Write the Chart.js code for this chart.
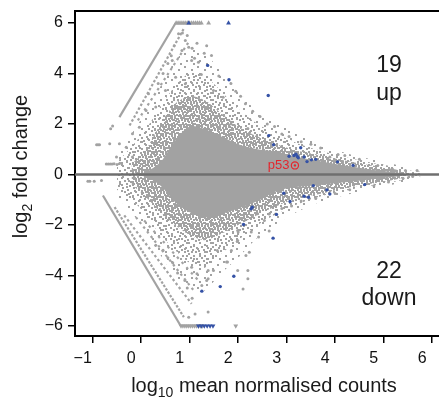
<!DOCTYPE html>
<html>
<head>
<meta charset="utf-8">
<script src="https://cdn.jsdelivr.net/npm/chart.js@4.4.1/dist/chart.umd.min.js"></script>
<style>
  html, body { margin: 0; padding: 0; overflow: hidden; background: #fff; }
  #wrap { width: 447px; height: 407px; }
</style>
</head>
<body>
<div id="wrap"><canvas id="maPlot" width="447" height="407"></canvas></div>
<script>
// axes
const xTicks = [-1, 0, 1, 2, 3, 4, 5, 6];
const yTicks = [-6, -4, -2, 0, 2, 4, 6];
const xRange = [-1.366, 6.2];
const yRange = [-6.396, 6.475];

// density envelopes of the grey cloud
const bandX      = [-0.2, 0.1, 0.4, 0.7, 1.0, 1.3, 1.6, 2.0, 2.4, 2.8, 3.2, 3.6, 4.0, 4.4, 4.8, 5.2, 5.5];
const coreUpper  = [0.0, 0.1, 0.5, 1.35, 1.9, 1.8, 1.55, 1.2, 1.0, 0.9, 0.7, 0.55, 0.42, 0.3, 0.18, 0.1, 0.0];
const coreLower  = [0.0, -0.1, -0.45, -1.1, -1.5, -1.7, -1.6, -1.35, -1.05, -0.65, -0.5, -0.44, -0.35, -0.27, -0.18, -0.1, 0.0];
const denseUpper = [0.4, 1.0, 2.0, 2.8, 3.1, 2.95, 2.5, 1.9, 1.5, 1.2, 0.95, 0.8, 0.63, 0.48, 0.35, 0.22, 0.08];
const denseLower = [-0.4, -0.9, -1.5, -2.0, -2.4, -2.6, -2.4, -2.0, -1.6, -1.25, -0.95, -0.8, -0.63, -0.48, -0.35, -0.22, -0.08];
const sparseX     = [-0.5, -0.2, 0.1, 0.4, 0.7, 1.0, 1.3, 1.6, 2.0, 2.4, 2.8, 3.2, 3.6, 4.0, 4.4, 4.8, 5.2, 5.5, 5.8];
const sparseUpper = [0.5, 1.1, 1.8, 2.7, 3.5, 4.0, 3.9, 3.4, 2.6, 2.0, 1.6, 1.25, 1.0, 0.78, 0.6, 0.45, 0.32, 0.18, 0.05];
const sparseLower = [-0.6, -1.0, -1.6, -2.4, -3.0, -3.5, -3.7, -3.2, -2.6, -2.0, -1.55, -1.2, -0.92, -0.72, -0.56, -0.43, -0.3, -0.18, -0.05];
const outerUpper  = [0.8, 1.6, 2.5, 3.5, 4.5, 5.0, 4.8, 4.2, 3.3, 2.5, 2.05, 1.6, 1.25, 0.98, 0.75, 0.58, 0.42, 0.26, 0.08];
const outerLower  = [-0.9, -1.5, -2.3, -3.2, -4.0, -4.5, -4.6, -4.0, -3.3, -2.5, -1.95, -1.5, -1.15, -0.92, -0.72, -0.55, -0.4, -0.25, -0.08];

// zero-count rows (start / end of each row of genes)
const upperMain = [[-0.45, 2.27], [0.71, 6.0]];
const upperRows = [
  [[-0.24, 1.94], [0.88, 5.78]],
  [[-0.07, 2.14], [0.98, 5.25]]
];
const lowerMain = [[-0.79, -0.83], [0.81, -5.98]];
const lowerRows = [
  [[-0.55, -1.29], [0.88, -5.65]],
  [[-0.35, -1.62], [1.04, -5.12]],
  [[-0.11, -1.69], [1.11, -4.66]],
  [[0.06, -1.82], [1.18, -4.2]]
];

// single grey genes outside the cloud
const upperOutliers = [
  [-0.65, 1.22], [-0.45, 1.22], [-0.31, 1.08], [-0.51, 0.69], [-0.18, 0.69], [-0.18, 1.61], [-0.04, 1.87],
  [0.1, 2.53], [0.3, 2.67], [0.5, 3.33], [0.71, 3.85], [0.91, 3.59], [0.64, 4.51], [1.04, 4.51], [0.84, 4.91],
  [0.98, 5.04], [0.91, 5.31], [0.77, 5.57], [1.18, 4.45], [1.24, 3.96], [1.45, 4.71], [1.49, 3.33], [1.69, 3.06],
  [1.85, 2.0], [2.2, 1.82], [0.15, 3.2], [0.35, 3.6], [0.45, 4.0], [0.55, 4.4], [0.62, 4.7], [0.68, 5.1],
  [0.85, 5.6], [0.95, 5.5], [1.05, 5.0], [1.1, 4.6], [1.15, 5.2], [1.3, 4.8], [1.35, 5.1], [1.6, 3.9],
  [1.85, 3.6], [1.95, 3.3], [2.05, 3.1], [2.15, 2.8], [2.3, 2.5], [2.45, 2.3], [2.6, 2.0], [2.75, 1.9],
  [2.9, 1.6], [3.05, 1.5], [3.3, 1.3], [3.5, 1.2], [3.7, 1.05], [3.89, 0.69], [4.06, 0.79], [4.2, 0.75],
  [4.5, 0.6], [4.88, 0.36], [5.18, 0.22], [5.45, 0.16], [5.69, 0.16]
];
const lowerOutliers = [
  [-0.82, -0.24], [2.64, -1.56], [2.77, -1.56], [2.64, -2.24], [2.42, -2.48], [2.27, -2.28], [2.23, -3.08],
  [2.16, -3.21], [2.2, -3.8], [2.2, -4.13], [2.1, -4.53], [1.99, -2.61], [1.86, -3.01], [1.76, -3.47],
  [1.49, -3.8], [1.35, -4.2], [1.38, -5.45], [1.25, -4.4], [2.4, -1.55], [1.99, -2.22], [2.54, -1.82],
  [2.0, -2.28], [1.98, -2.65], [1.78, -3.47], [1.99, -3.8], [1.57, -3.01], [1.38, -3.8], [1.04, -3.67],
  [1.38, -4.13], [1.15, -3.93], [1.11, -5.52], [0.98, -5.65], [1.05, -4.9], [0.95, -4.5], [0.9, -4.2],
  [0.75, -3.9], [0.65, -3.5], [0.55, -3.3], [0.45, -3.0], [0.3, -2.8], [2.9, -1.35], [3.1, -1.25],
  [3.3, -1.05], [3.6, -0.95], [4.0, -0.75], [4.3, -0.6], [4.8, -0.45], [5.1, -0.3], [5.4, -0.15], [5.6, -0.08]
];
const leftRows = [
  [-0.92, 1.18], [-0.89, 1.18], [-0.86, 1.18], [-0.72, 0.42], [-0.68, 0.42], [-0.64, 0.42], [-0.6, 0.42],
  [-0.56, 0.43], [-0.5, 0.4], [-0.44, 0.45], [-1.1, -0.27], [-1.06, -0.27], [-0.97, -0.27],
  [-0.63, 1.81], [-0.59, 1.92]
];

// genes clipped at +-6 (drawn as triangles)
const greyTopX    = [0.72, 0.76, 0.8, 0.84, 0.88, 0.92, 0.96, 1.0, 1.04, 1.08, 1.12, 1.16, 1.2, 1.24, 1.39];
const greyBottomX = [0.82, 0.86, 0.9, 0.94, 0.98, 1.02, 1.06, 1.1, 1.14, 1.18, 1.22, 1.26, 1.95];
const blueTopX    = [0.98, 1.8];
const blueBottomX = [1.18, 1.24, 1.3, 1.36, 1.42, 1.48];

// significant genes
const upGenes = [
  [1.37, 4.32], [1.81, 3.75], [2.62, 3.13], [2.63, 1.54], [2.73, 1.18], [3.29, 1.06], [3.15, 0.75],
  [3.22, 0.71], [3.24, 0.66], [3.36, 0.69], [3.51, 0.58], [3.42, 0.51], [4.37, 0.36], [3.19, 0.8],
  [3.05, 0.72], [3.6, 0.6], [4.05, 0.5]
];
const downGenes = [
  [4.61, -0.4], [3.36, -0.86], [2.94, -0.74], [3.55, -0.44], [3.83, -0.61], [3.89, -0.77], [3.45, -0.9],
  [3.07, -1.07], [2.27, -1.36], [2.29, -1.3], [2.79, -1.58], [2.72, -2.52], [2.11, -1.98], [1.91, -4.03],
  [1.63, -4.44], [1.25, -4.62]
];
const p53 = [3.17, 0.36];

const upCount = 19;
const downCount = 22;
const countX = 5.11;
const countY = [4.04, 2.97, -4.11, -5.15];

const GREY = '#a2a2a2';
const BLUE = '#3552a6';
const RED = '#e3262d';

function pts(arr) { return arr.map(([x, y]) => ({x: x, y: y})); }
function band(xs, ys) { return xs.map((x, i) => ({x: x, y: ys[i]})); }

// speckled fill textures standing in for the overplotted points
function speckle(size, cells) {
  const c = document.createElement('canvas');
  c.width = c.height = size;
  const g = c.getContext('2d');
  g.fillStyle = GREY;
  cells.forEach(([a, b]) => g.fillRect(a, b, 2, 2));
  return g.createPattern(c, 'repeat');
}
const densePattern = speckle(9, [[0, 0], [3, 0], [6, 1], [1, 2], [4, 3], [7, 3], [2, 5], [5, 6], [0, 7], [7, 7], [3, 7]]);
const sparsePattern = speckle(11, [[1, 0], [6, 2], [9, 5], [3, 4], [0, 8], [5, 7], [8, 9]]);
const outerPattern = speckle(13, [[2, 1], [9, 4], [4, 8], [11, 11]]);

function bandPair(xs, up, low, fillStyle, order) {
  return [
    {data: band(xs, up), fill: '+1', backgroundColor: fillStyle, borderColor: 'transparent',
     borderWidth: 0, pointRadius: 0, tension: 0.3, order: order},
    {data: band(xs, low), fill: false, borderColor: 'transparent', borderWidth: 0,
     pointRadius: 0, tension: 0.3, order: order}
  ];
}
function row(arr, dash, width) {
  return {data: pts(arr), borderColor: GREY, borderWidth: width || 2.2, borderDash: dash || [],
          pointRadius: 0, fill: false, order: 15};
}
function dots(arr, color, order, extra) {
  return Object.assign({data: pts(arr), showLine: false, pointRadius: 1.5, pointBackgroundColor: color,
                        pointBorderWidth: 0, order: order}, extra || {});
}
function atY(xs, y) { return xs.map(x => [x, y]); }

const datasets = [].concat(
  bandPair(sparseX, outerUpper, outerLower, outerPattern, 21),
  bandPair(sparseX, sparseUpper, sparseLower, sparsePattern, 20),
  bandPair(bandX, denseUpper, denseLower, densePattern, 19),
  bandPair(bandX, coreUpper, coreLower, GREY, 18),
  [row(upperMain), row(upperRows[0], [2.5, 2]), row(upperRows[1], [2.5, 3.5])],
  [row(lowerMain), row(lowerRows[0], [2.5, 1.5]), row(lowerRows[1], [2.5, 2.5]),
   row(lowerRows[2], [2.5, 3.5]), row(lowerRows[3], [2.5, 4.5])],
  [dots(upperOutliers, GREY, 12), dots(lowerOutliers, GREY, 12), dots(leftRows, GREY, 12)],
  [dots(atY(greyTopX, 6), GREY, 11, {pointStyle: 'triangle', pointRadius: 2.8}),
   dots(atY(greyBottomX, -6), GREY, 11, {pointStyle: 'triangle', pointRadius: 2.8, rotation: 180})],
  [{data: [{x: xRange[0], y: 0}, {x: xRange[1], y: 0}], borderColor: '#6f6f6f', borderWidth: 2.5,
    pointRadius: 0, fill: false, order: 6}],
  [dots(upGenes, BLUE, 3, {pointRadius: 1.7}), dots(downGenes, BLUE, 3, {pointRadius: 1.7}),
   dots(atY(blueTopX, 6), BLUE, 3, {pointStyle: 'triangle', pointRadius: 2.8}),
   dots(atY(blueBottomX, -6), BLUE, 3, {pointStyle: 'triangle', pointRadius: 2.8, rotation: 180})],
  [dots([p53], RED, 1, {pointRadius: 3.6, pointBackgroundColor: 'rgba(0,0,0,0)', pointBorderColor: RED, pointBorderWidth: 1.2}),
   dots([p53], RED, 1, {pointRadius: 1.2})]
);

function minus(v) { return String(v).replace('-', '\u2212'); }

function drawParts(ctx, parts, cx, baseY) {
  let total = 0;
  parts.forEach(p => { ctx.font = p[1] + 'px "Liberation Sans"'; total += ctx.measureText(p[0]).width; });
  let x = cx - total / 2;
  ctx.textAlign = 'left';
  ctx.textBaseline = 'alphabetic';
  parts.forEach(p => {
    ctx.font = p[1] + 'px "Liberation Sans"';
    ctx.fillText(p[0], x, baseY + p[2]);
    x += ctx.measureText(p[0]).width;
  });
}

const decor = {
  id: 'decor',
  afterDraw(chart) {
    const ctx = chart.ctx, a = chart.chartArea, xs = chart.scales.x, ys = chart.scales.y;
    ctx.save();
    ctx.strokeStyle = '#000';
    ctx.lineWidth = 2;
    ctx.beginPath();
    ctx.moveTo(a.left - 1, a.top);
    ctx.lineTo(a.right, a.top);
    ctx.stroke();

    ctx.fillStyle = '#1a1a1a';
    ctx.font = '23px "Liberation Sans"';
    ctx.textAlign = 'center';
    ctx.textBaseline = 'alphabetic';
    const words = [String(upCount), 'up', String(downCount), 'down'];
    words.forEach((w, i) => ctx.fillText(w, xs.getPixelForValue(countX), ys.getPixelForValue(countY[i])));

    ctx.fillStyle = RED;
    ctx.font = '13px "Liberation Sans"';
    ctx.textAlign = 'right';
    ctx.textBaseline = 'middle';
    ctx.fillText('p53', xs.getPixelForValue(p53[0]) - 5.5, ys.getPixelForValue(p53[1]));

    ctx.fillStyle = '#1a1a1a';
    drawParts(ctx, [['log', 20, 0], ['10', 14, 5], [' mean normalised counts', 20, 0]], 264, 392);
    ctx.translate(27, 166.5);
    ctx.rotate(-Math.PI / 2);
    drawParts(ctx, [['log', 20, 0], ['2', 14, 5], [' fold change', 20, 0]], 0, 0);
    ctx.restore();
  }
};

Chart.defaults.font.family = '"Liberation Sans", Arial, sans-serif';

new Chart(document.getElementById('maPlot'), {
  type: 'line',
  data: {datasets: datasets},
  options: {
    responsive: false,
    animation: false,
    devicePixelRatio: 1,
    layout: {padding: {top: 11, right: 0, left: 0, bottom: 0}},
    plugins: {legend: {display: false}, tooltip: {enabled: false}},
    scales: {
      x: {
        type: 'linear', min: xRange[0], max: xRange[1],
        afterFit: s => { s.height = 71; s.paddingLeft = 0; s.paddingRight = 0; },
        afterBuildTicks: s => { s.ticks = xTicks.map(v => ({value: v})); },
        grid: {display: true, drawOnChartArea: false, drawTicks: true, tickLength: 7, color: '#000', lineWidth: 1.5},
        border: {display: true, color: '#000', width: 2},
        ticks: {font: {size: 16}, color: '#111', padding: 6, labelOffset: -10, maxRotation: 0,
                autoSkip: false, callback: v => minus(v)}
      },
      y: {
        type: 'linear', min: yRange[0], max: yRange[1],
        afterFit: s => { s.width = 75; s.paddingTop = 0; s.paddingBottom = 0; },
        afterBuildTicks: s => { s.ticks = yTicks.map(v => ({value: v})); },
        grid: {display: true, drawOnChartArea: false, drawTicks: true, tickLength: 7, color: '#000', lineWidth: 1.5},
        border: {display: true, color: '#000', width: 2},
        ticks: {font: {size: 16}, color: '#111', padding: 5, autoSkip: false, callback: v => minus(v)}
      }
    }
  },
  plugins: [decor]
});
</script>
</body>
</html>
